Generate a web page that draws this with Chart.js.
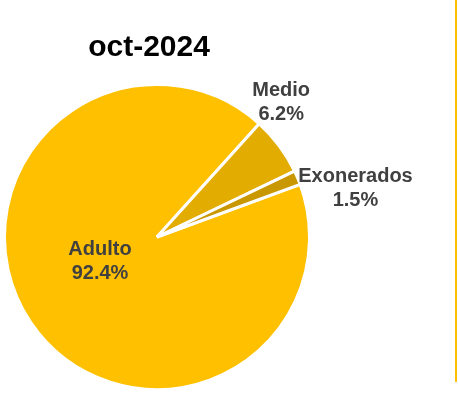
<!DOCTYPE html>
<html lang="es">
<head>
    <meta charset="UTF-8">
    <title>oct-2024</title>
    <script src="https://cdn.jsdelivr.net/npm/chart.js"></script>
    <style>
        body {
            margin: 0;
            background: #ffffff;
            font-family: "Liberation Sans", Arial, sans-serif;
        }

        .wrap {
            position: relative;
            width: 458px;
            height: 393px;
        }

        /* orange divider on the right edge */
        .divider {
            position: absolute;
            left: 455px;
            top: 0;
            width: 2px;
            height: 382px;
            background: #FFC000;
        }
    </style>
</head>
<body>
    <div class="wrap">
        <canvas id="pieChart" width="458" height="393"></canvas>
        <div class="divider"></div>
    </div>

    <script>
        const chartTitle = 'oct-2024';
        const categories = ['Adulto', 'Medio', 'Exonerados'];
        const shares = [92.4, 6.2, 1.5];
        const sliceColors = ['#FFC000', '#E2AC00', '#C99700'];

        // label placement: offset from the slice's outer edge (or the centre for inside labels)
        const labelPlacement = [
            { inside: true, dx: -57, dy: 24 },
            { inside: false, dx: 2, dy: -43 },
            { inside: false, dx: 58, dy: 11 }
        ];

        const sliceLabels = {
            id: 'sliceLabels',
            afterDraw(chart) {
                const ctx = chart.ctx;
                const meta = chart.getDatasetMeta(0);
                ctx.save();
                ctx.textAlign = 'center';
                ctx.textBaseline = 'middle';

                // title
                ctx.fillStyle = '#000000';
                ctx.font = 'bold 30px "Liberation Sans", Arial, sans-serif';
                ctx.fillText(chartTitle, 149, 48);

                ctx.fillStyle = '#404040';
                ctx.font = 'bold 20px "Liberation Sans", Arial, sans-serif';
                meta.data.forEach((arc, i) => {
                    const p = arc.getProps(['x', 'y', 'startAngle', 'endAngle', 'outerRadius'], true);
                    const mid = (p.startAngle + p.endAngle) / 2;
                    const place = labelPlacement[i];
                    let x, y;
                    if (place.inside) {
                        x = p.x + place.dx;
                        y = p.y + place.dy;
                    } else {
                        x = p.x + Math.cos(mid) * p.outerRadius + place.dx;
                        y = p.y + Math.sin(mid) * p.outerRadius + place.dy;
                    }
                    ctx.fillText(categories[i], x, y - 12);
                    ctx.fillText(shares[i].toFixed(1) + '%', x, y + 12);
                });
                ctx.restore();
            }
        };

        new Chart(document.getElementById('pieChart'), {
            type: 'pie',
            data: {
                labels: categories,
                datasets: [{
                    data: shares,
                    backgroundColor: sliceColors,
                    borderColor: '#ffffff',
                    borderWidth: 3,
                    hoverOffset: 0
                }]
            },
            options: {
                responsive: false,
                animation: false,
                rotation: 69.8,
                layout: {
                    padding: { left: 3, right: 147, top: 82, bottom: 1 }
                },
                plugins: {
                    legend: { display: false },
                    tooltip: { enabled: false }
                }
            },
            plugins: [sliceLabels]
        });
    </script>
</body>
</html>
